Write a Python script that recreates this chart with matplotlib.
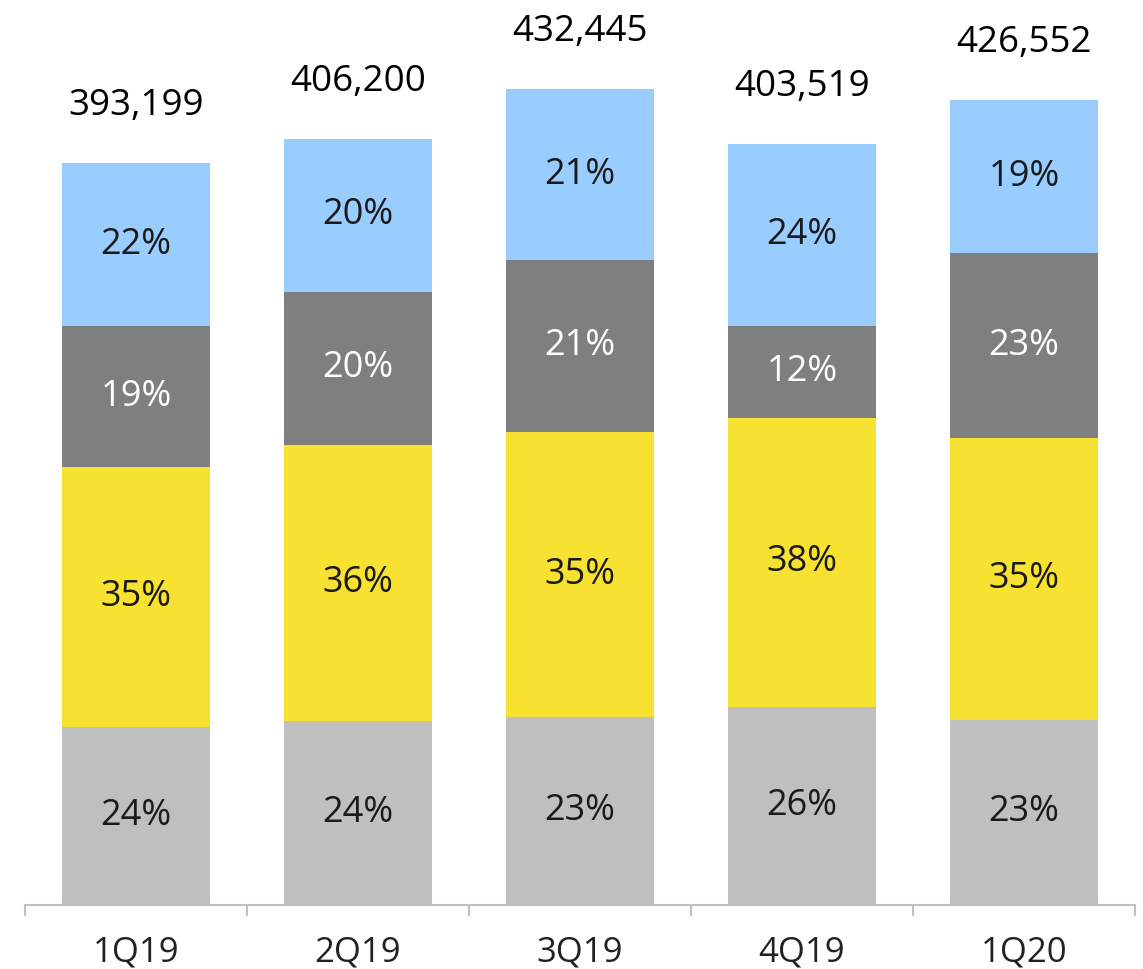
import matplotlib.pyplot as plt
import numpy as np

quarters = ["1Q19", "2Q19", "3Q19", "4Q19", "1Q20"]
totals = [393199, 406200, 432445, 403519, 426552]
# shares (%) from bottom to top
pct_bottom = [24, 24, 23, 26, 23]
pct_yellow = [35, 36, 35, 38, 35]
pct_dark = [19, 20, 21, 12, 23]
pct_blue = [22, 20, 21, 24, 19]

colors = ["#BFBFBF", "#F8E231", "#7F7F7F", "#99CCFF"]
text_colors = ["#1a1a1a", "#1a1a1a", "white", "#1a1a1a"]

plt.rcParams['font.family'] = ['Open Sans', 'DejaVu Sans']

fig = plt.figure(figsize=(11.43, 9.69), dpi=100)
ax = fig.add_axes([25 / 1143, 1 - 905 / 969, 1110 / 1143, 905 / 969])

x = np.arange(len(quarters))
tot = np.array(totals, dtype=float)
base = np.zeros(len(quarters))
for pcts, col, tcol in zip([pct_bottom, pct_yellow, pct_dark, pct_blue], colors, text_colors):
    vals = tot * np.array(pcts) / 100.0
    ax.bar(x, vals, bottom=base, width=0.665, color=col, linewidth=0)
    for i in range(len(x)):
        ax.text(x[i], base[i] + vals[i] / 2, f"{pcts[i]}%", ha="center", va="center",
                fontsize=26, color=tcol)
    base += vals

for i in range(len(x)):
    ax.annotate(f"{totals[i]:,}", (x[i], totals[i]), xytext=(0, 41), textcoords="offset points",
                ha="center", va="center", fontsize=26.5, color="black")

ax.set_xlim(-0.5, len(quarters) - 0.5)
ax.set_ylim(0, 479600)
for s in ["top", "right", "left"]:
    ax.spines[s].set_visible(False)
ax.spines["bottom"].set_color("#BFBFBF")
ax.spines["bottom"].set_linewidth(1.5)
ax.set_yticks([])
ax.set_xticks(x)
ax.set_xticklabels(quarters, fontsize=25, color="#222222")
ax.set_xticks(np.arange(-0.5, len(quarters)), minor=True)
ax.tick_params(axis="x", which="major", length=0, pad=22)
ax.tick_params(axis="x", which="minor", length=8, color="#BFBFBF", width=1.5)

fig.savefig("out.png", dpi=100)
